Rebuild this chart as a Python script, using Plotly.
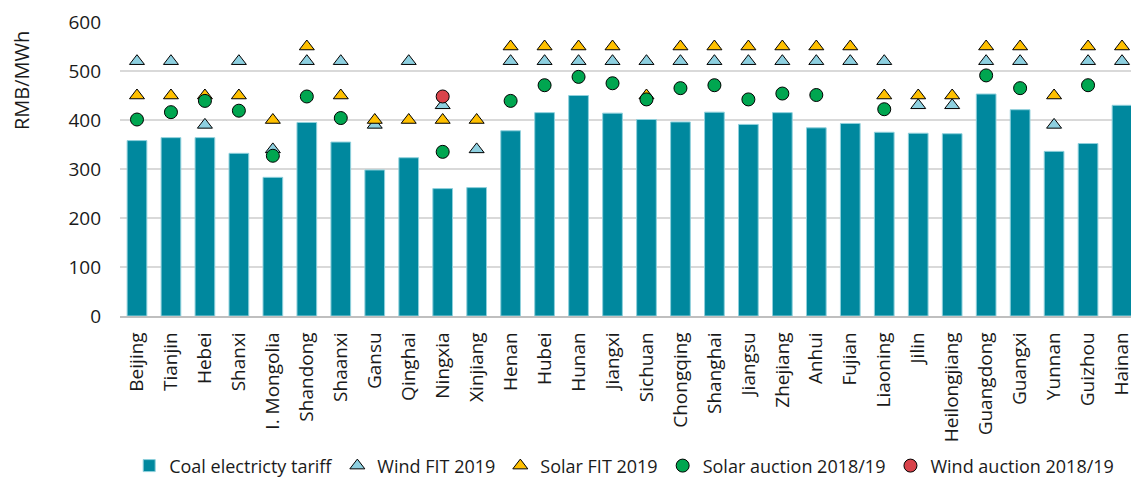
import plotly.graph_objects as go

provinces = ["Beijing", "Tianjin", "Hebei", "Shanxi", "I. Mongolia", "Shandong", "Shaanxi", "Gansu",
             "Qinghai", "Ningxia", "Xinjiang", "Henan", "Hubei", "Hunan", "Jiangxi", "Sichuan",
             "Chongqing", "Shanghai", "Jiangsu", "Zhejiang", "Anhui", "Fujian", "Liaoning", "Jilin",
             "Heilongjiang", "Guangdong", "Guangxi", "Yunnan", "Guizhou", "Hainan"]

coal_tariff = [358, 364, 364, 332, 283, 395, 355, 298, 323, 260, 262, 378, 415, 450, 414, 401,
               396, 416, 391, 415, 384, 393, 375, 373, 372, 453, 421, 336, 352, 430]

wind_fit = [520, 520, 390, 520, 340, 520, 520, 390, 520, 430, 340, 520, 520, 520, 520, 520,
            520, 520, 520, 520, 520, 520, 520, 430, 430, 520, 520, 390, 520, 520]

solar_fit = [450, 450, 450, 450, 400, 550, 450, 400, 400, 400, 400, 550, 550, 550, 550, 450,
             550, 550, 550, 550, 550, 550, 450, 450, 450, 550, 550, 450, 550, 550]

solar_auction = [401, 416, 439, 419, 327, 448, 404, None, None, 335, None, 439, 471, 488, 475, 442,
                 465, 471, 442, 454, 451, None, 422, None, None, 491, 465, None, 471, None]

wind_auction = [None, None, None, None, None, None, None, None, None, 448, None, None, None, None, None, None,
                None, None, None, None, None, None, None, None, None, None, None, None, None, None]

FONT = "Open Sans"
line = dict(color="black", width=1)

fig = go.Figure()
fig.add_trace(go.Bar(x=provinces, y=coal_tariff, name="Coal electricty tariff",
                     marker=dict(color="#00889e", line=dict(color="#8fd0dc", width=1)),
                     width=0.58))
fig.add_trace(go.Scatter(x=provinces, y=wind_fit, name="Wind FIT 2019", mode="markers",
                         marker=dict(symbol="triangle-up", size=13, color="#8ed0e0", line=line)))
fig.add_trace(go.Scatter(x=provinces, y=solar_fit, name="Solar FIT 2019", mode="markers",
                         marker=dict(symbol="triangle-up", size=13, color="#ffc000", line=line)))
fig.add_trace(go.Scatter(x=provinces, y=solar_auction, name="Solar auction 2018/19", mode="markers",
                         marker=dict(symbol="circle", size=13, color="#00a650", line=line)))
fig.add_trace(go.Scatter(x=provinces, y=wind_auction, name="Wind auction 2018/19", mode="markers",
                         marker=dict(symbol="circle", size=13, color="#d9434b", line=line)))

fig.add_annotation(text="RMB/MWh", textangle=-90, xref="paper", yref="paper",
                   x=-0.096, y=0.80, xanchor="center", yanchor="middle", showarrow=False,
                   font=dict(size=20, family=FONT, color="#1a1a1a"))

fig.update_layout(
    width=1139, height=482,
    margin=dict(l=112, r=8, t=14, b=174, autoexpand=False),
    plot_bgcolor="white", paper_bgcolor="white",
    font=dict(family=FONT, size=19, color="#1a1a1a"),
    showlegend=True,
    legend=dict(orientation="h", xref="container", x=0.541, xanchor="center",
                yref="container", y=0.05, yanchor="middle",
                bgcolor="rgba(0,0,0,0)", font=dict(size=18), itemwidth=30, tracegroupgap=0),
    xaxis=dict(range=[-0.5, 29.5], tickangle=-90, showgrid=False, showline=True, linecolor="#bfbfbf",
               linewidth=1.5, ticks="", tickfont=dict(size=19), automargin=False, ticklabelstandoff=7),
    yaxis=dict(range=[0, 600], dtick=100, showgrid=True, gridcolor="#d9d9d9", gridwidth=1.5,
               zeroline=False, ticks="", tickfont=dict(size=19), automargin=False, ticklabelstandoff=18),
)

fig.write_html("out.html")
